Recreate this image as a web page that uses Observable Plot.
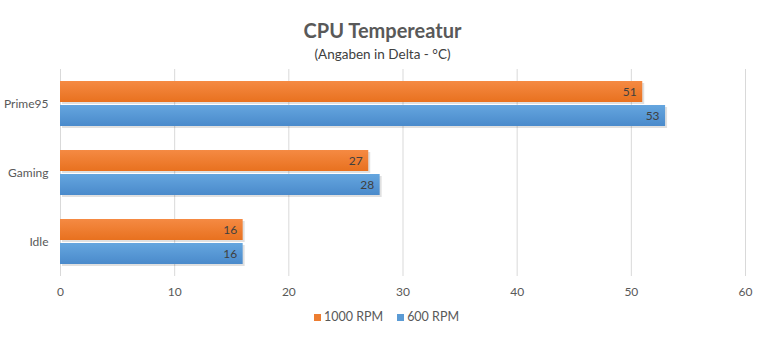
<!DOCTYPE html>
<html>
<head>
<meta charset="utf-8">
<script src="https://cdn.jsdelivr.net/npm/d3@7"></script>
<script src="https://cdn.jsdelivr.net/npm/@observablehq/plot@0.6"></script>
<style>
  body { margin: 0; background: #fff; font-family: Lato, "Open Sans", sans-serif; }
  #wrap { width: 765px; height: 337px; position: relative; }
  .title { height: 40px; line-height: 20px; padding-top: 20px; box-sizing: border-box; text-align: center; font-size: 20px; font-weight: bold; color: #595959; }
  .sub { height: 20px; line-height: 20px; padding-top: 4px; box-sizing: border-box; text-align: center; font-size: 13.5px; color: #404040; }
  .legend { display: flex; justify-content: center; gap: 14px; font-size: 12.5px; color: #595959; padding-left: 8px; padding-top: 4px; }
  .legend span.sw { display: inline-block; width: 7px; height: 7px; margin-right: 3px; }
</style>
</head>
<body>
<div id="wrap">
  <div class="title">CPU Tempereatur</div>
  <div class="sub">(Angaben in Delta - °C)</div>
  <div id="chart"></div>
  <div class="legend" id="legend"></div>
</div>
<script>
const categories = ["Prime95", "Gaming", "Idle"];
const series = ["1000 RPM", "600 RPM"];
const rpm1000 = [51, 27, 16];
const rpm600 = [53, 28, 16];
const seriesColors = ["#ED7D31", "#5B9BD5"];
const xTicks = [0, 10, 20, 30, 40, 50, 60];

const rows = [];
categories.forEach((c, i) => {
  rows.push({cat: c, series: series[0], value: rpm1000[i]});
  rows.push({cat: c, series: series[1], value: rpm600[i]});
});

const defs = () => {
  const ns = "http://www.w3.org/2000/svg";
  const d = document.createElementNS(ns, "defs");
  d.innerHTML = `
    <linearGradient id="gOrange" x1="0" y1="0" x2="0" y2="1">
      <stop offset="0" stop-color="#F58A43"/><stop offset="1" stop-color="#E8711F"/>
    </linearGradient>
    <linearGradient id="gBlue" x1="0" y1="0" x2="0" y2="1">
      <stop offset="0" stop-color="#65A6DF"/><stop offset="1" stop-color="#4A8ACB"/>
    </linearGradient>`;
  return d;
};

const chart = Plot.plot({
  width: 765,
  height: 245,
  marginLeft: 60,
  marginRight: 20,
  marginTop: 9,
  marginBottom: 29,
  style: {fontFamily: "Lato, 'Open Sans', sans-serif", fontSize: "12px", color: "#595959", background: "transparent"},
  x: {domain: [0, 60], ticks: xTicks, grid: true, label: null, tickSize: 0, tickPadding: 11},
  y: {domain: series, axis: null, paddingInner: 0.125, paddingOuter: 0.5},
  fy: {domain: categories, label: null, tickSize: 0, tickPadding: 12, paddingInner: 0, paddingOuter: 0},
  marks: [
    defs,
    Plot.barX(rows, {x: "value", y: "series", fy: "cat", dx: 2, dy: 2, fill: "#000", fillOpacity: 0.12}),
    Plot.barX(rows.filter(d => d.series === series[0]), {x: "value", y: "series", fy: "cat", fill: "url(#gOrange)"}),
    Plot.barX(rows.filter(d => d.series === series[1]), {x: "value", y: "series", fy: "cat", fill: "url(#gBlue)"}),
    Plot.text(rows, {x: "value", y: "series", fy: "cat", text: d => String(d.value), textAnchor: "end", dx: -6, fill: "#404040", fontSize: 12})
  ]
});
document.getElementById("chart").appendChild(chart);
d3.select(chart).selectAll("[aria-label='x-grid'] line, g[aria-label='x-grid'] line").attr("stroke", "#d9d9d9").attr("stroke-opacity", 1);

const legend = document.getElementById("legend");
series.forEach((s, i) => {
  const item = document.createElement("div");
  item.innerHTML = `<span class="sw" style="background:${seriesColors[i]}"></span>${s}`;
  legend.appendChild(item);
});
</script>
</body>
</html>
